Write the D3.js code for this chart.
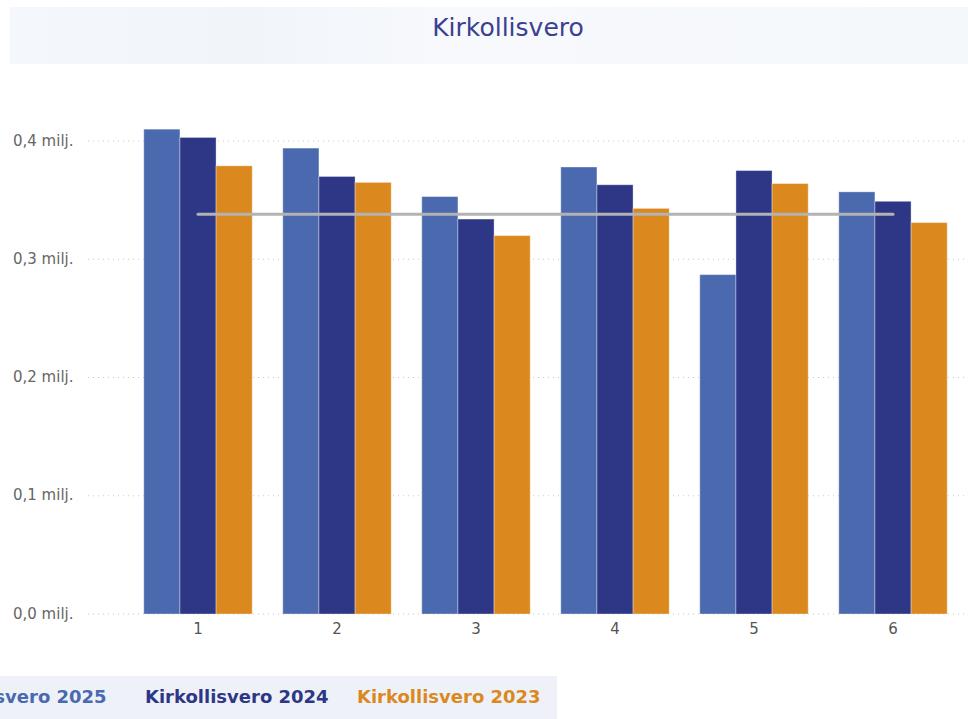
<!DOCTYPE html>
<html><head><meta charset="utf-8">
<script src="https://cdn.jsdelivr.net/npm/d3@7"></script>
<style>
body{margin:0;background:#fff;overflow:hidden}
svg{display:block}
</style></head>
<body>
<svg id="chart" width="968" height="719"></svg>
<script>
const categories = ["1","2","3","4","5","6"];
const seriesNames = ["Kirkollisvero 2025","Kirkollisvero 2024","Kirkollisvero 2023"];
const values2025 = [0.410,0.394,0.353,0.378,0.287,0.357];
const values2024 = [0.403,0.370,0.334,0.363,0.375,0.349];
const values2023 = [0.379,0.365,0.320,0.343,0.364,0.331];
const averageValue = 0.338;
const yTicks = [0,0.1,0.2,0.3,0.4];
const colors = ["#4a69ae","#2e3785","#db891e"];
const title = "Kirkollisvero";

const svg = d3.select("#chart");
const defs = svg.append("defs");
const g1 = defs.append("linearGradient").attr("id","tg").attr("x1","0").attr("x2","1");
g1.append("stop").attr("offset","0").attr("stop-color","#f4f7fb");
g1.append("stop").attr("offset","0.25").attr("stop-color","#f1f5fa");
g1.append("stop").attr("offset","0.45").attr("stop-color","#f7f9fc");
g1.append("stop").attr("offset","1").attr("stop-color","#f5f8fb");

// title band
svg.append("rect").attr("x",10).attr("y",7).attr("width",958).attr("height",57).attr("fill","url(#tg)");
svg.append("text").attr("x",508).attr("y",29).attr("text-anchor","middle").attr("dominant-baseline","middle")
  .attr("font-family","DejaVu Sans").attr("font-size",25).attr("fill","#3b4190").text(title);

const y = d3.scaleLinear().domain([0,0.4]).range([614,141]);
const x0 = d3.scaleBand().domain(categories).range([128.5,962.5]).paddingInner(0.22).paddingOuter(0.11);
const x1 = d3.scaleBand().domain(seriesNames).range([0,x0.bandwidth()]);

// grid
const grid = svg.append("g");
grid.selectAll("line").data(yTicks).join("line")
  .attr("x1",88).attr("x2",968).attr("y1",d=>y(d)).attr("y2",d=>y(d))
  .attr("stroke","#c8c8c8").attr("stroke-width",1).attr("stroke-dasharray","1,4");
const fmt = d => d3.format(".1f")(d).replace(".",",")+" milj.";
svg.append("g").selectAll("text").data(yTicks).join("text")
  .attr("x",13).attr("y",d=>y(d)).attr("dominant-baseline","middle")
  .attr("font-family","DejaVu Sans").attr("font-size",15).attr("fill","#666").text(fmt);

// bars
const allSeries = [values2025, values2024, values2023];
const data = categories.map((c,i)=>({cat:c, vals: seriesNames.map((s,j)=>({s, v: allSeries[j][i], c: colors[j]}))}));
const groups = svg.append("g").selectAll("g").data(data).join("g")
  .attr("transform",d=>`translate(${x0(d.cat)},0)`);
groups.selectAll("rect").data(d=>d.vals).join("rect")
  .attr("x",d=>x1(d.s)).attr("width",x1.bandwidth())
  .attr("y",d=>y(d.v)).attr("height",d=>y(0)-y(d.v))
  .attr("fill",d=>d.c).attr("stroke","rgba(255,255,255,0.35)").attr("stroke-width",1);

// x axis labels
svg.append("g").selectAll("text").data(categories).join("text")
  .attr("x",d=>x0(d)+x0.bandwidth()/2).attr("y",629).attr("text-anchor","middle").attr("dominant-baseline","middle")
  .attr("font-family","DejaVu Sans").attr("font-size",15).attr("fill","#555").text(d=>d);

// average line
const xs = categories.map(c=>x0(c)+x0.bandwidth()/2);
svg.append("line").attr("x1",d3.min(xs)).attr("x2",d3.max(xs)).attr("y1",y(averageValue)).attr("y2",y(averageValue))
  .attr("stroke","#b3b3b3").attr("stroke-width",3).attr("stroke-linecap","round");

// legend
svg.append("rect").attr("x",0).attr("y",676).attr("width",557).attr("height",43).attr("fill","#eef2f8");
const legX = [-77,145,357];
svg.append("g").selectAll("text").data(seriesNames).join("text")
  .attr("x",(d,i)=>legX[i]).attr("y",698).attr("dominant-baseline","middle")
  .attr("font-family","DejaVu Sans").attr("font-weight","bold").attr("font-size",18)
  .attr("fill",(d,i)=>colors[i]).text(d=>d);
</script>
</body></html>
